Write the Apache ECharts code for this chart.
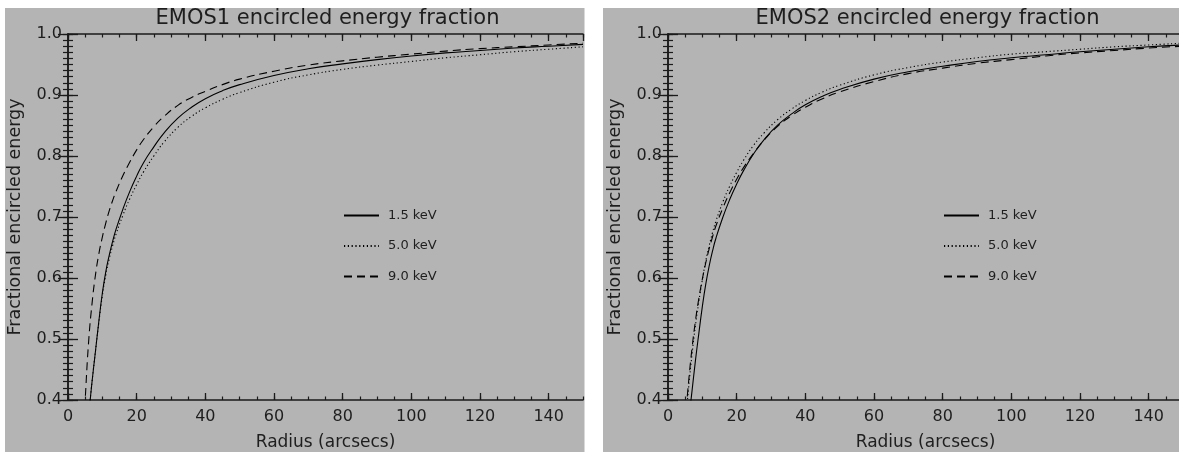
<!DOCTYPE html>
<html>
<head>
<meta charset="utf-8">
<script src="https://cdn.jsdelivr.net/npm/echarts@6/dist/echarts.min.js"></script>
<style>
html,body{margin:0;padding:0;background:#fff;}
#chart{width:1179px;height:452px;}
</style>
</head>
<body>
<div id="chart"></div>
<script>
// ---- data ----
const radii = [4,5,6,7,8,9,10,11,12,13,14,16,18,20,22,25,28,32,36,40,45,50,60,70,80,90,100,110,120,130,140,150];
const seriesNames = ['1.5 keV','5.0 keV','9.0 keV'];
const panelTitles = ['EMOS1 encircled energy fraction','EMOS2 encircled energy fraction'];
const xTitle = 'Radius (arcsecs)';
const yTitle = 'Fractional encircled energy';

const emos1_15 = [0.27,0.325,0.375,0.43,0.48,0.53,0.575,0.61,0.637,0.66,0.68,0.713,0.742,0.767,0.789,0.815,0.838,0.862,0.88,0.894,0.907,0.917,0.932,0.943,0.951,0.958,0.964,0.969,0.973,0.977,0.980,0.983];
const emos1_50 = [0.27,0.325,0.375,0.43,0.48,0.528,0.571,0.605,0.631,0.653,0.672,0.703,0.73,0.753,0.774,0.80,0.823,0.847,0.865,0.879,0.893,0.904,0.921,0.933,0.942,0.949,0.955,0.961,0.966,0.971,0.975,0.979];
const emos1_90 = [0.30,0.40,0.495,0.558,0.605,0.64,0.667,0.69,0.71,0.727,0.742,0.768,0.79,0.81,0.827,0.848,0.865,0.883,0.896,0.906,0.917,0.926,0.939,0.949,0.956,0.962,0.967,0.972,0.976,0.979,0.982,0.985];

const emos2_15 = [0.25,0.31,0.365,0.415,0.465,0.51,0.553,0.59,0.62,0.645,0.666,0.70,0.729,0.754,0.776,0.804,0.827,0.851,0.869,0.884,0.898,0.909,0.926,0.938,0.947,0.955,0.961,0.966,0.971,0.975,0.979,0.982];
const emos2_50 = [0.29,0.355,0.42,0.475,0.522,0.562,0.597,0.628,0.653,0.675,0.694,0.725,0.751,0.773,0.793,0.818,0.838,0.86,0.877,0.891,0.905,0.916,0.933,0.945,0.954,0.961,0.967,0.971,0.975,0.979,0.982,0.985];
const emos2_90 = [0.30,0.365,0.43,0.485,0.53,0.567,0.598,0.625,0.648,0.668,0.686,0.715,0.74,0.762,0.781,0.805,0.826,0.849,0.866,0.88,0.894,0.905,0.922,0.935,0.944,0.952,0.958,0.964,0.969,0.973,0.977,0.98];

const panelData = [[emos1_15, emos1_50, emos1_90],[emos2_15, emos2_50, emos2_90]];
const lineTypes = ['solid',[1.2,2.6],[8,5]];

// ---- layout ----
const FONT = 'DejaVu Sans';
const TXT = '#1e1e1e';
const AX = '#1a1a1a';
const BG = '#b4b4b4';
const gridLefts = [68, 668];
const gridTop = 34, gridW = 515, gridH = 366;

const grids = [], xAxes = [], yAxes = [], series = [], titles = [], legends = [];

gridLefts.forEach((gl, g) => {
  grids.push({left: gl, top: gridTop, width: gridW, height: gridH, containLabel: false, outerBoundsMode: 'none'});
  const xBase = {gridIndex: g, type: 'value', min: 0, max: 150, splitLine: {show: false}};
  const yBase = {gridIndex: g, type: 'value', min: 0.4, max: 1.0, splitLine: {show: false}};
  const line = {show: true, lineStyle: {color: AX, width: 1.5}};
  xAxes.push(Object.assign({}, xBase, {
    position: 'bottom', interval: 20,
    axisLine: line,
    axisTick: {show: true, inside: true, length: 7, lineStyle: {color: AX, width: 1.3}},
    axisLabel: {show: true, showMaxLabel: false, margin: 9, fontSize: 16, color: TXT, fontFamily: FONT},
    name: xTitle, nameLocation: 'middle', nameGap: 34,
    nameTextStyle: {fontSize: 17, color: TXT, fontFamily: FONT}
  }));
  const seriesXIndex = xAxes.length - 1;
  xAxes.push(Object.assign({}, xBase, {
    position: 'bottom', interval: 5,
    axisLine: {show: false},
    axisTick: {show: true, inside: true, length: 3.5, lineStyle: {color: AX, width: 1.2}},
    axisLabel: {show: false}
  }));
  xAxes.push(Object.assign({}, xBase, {
    position: 'top', interval: 20,
    axisLine: line,
    axisTick: {show: true, inside: true, length: 7, lineStyle: {color: AX, width: 1.3}},
    axisLabel: {show: false}
  }));
  xAxes.push(Object.assign({}, xBase, {
    position: 'top', interval: 5,
    axisLine: {show: false},
    axisTick: {show: true, inside: true, length: 3.5, lineStyle: {color: AX, width: 1.2}},
    axisLabel: {show: false}
  }));
  yAxes.push(Object.assign({}, yBase, {
    position: 'left', interval: 0.1,
    axisLine: line,
    axisTick: {show: true, inside: true, length: 10, lineStyle: {color: AX, width: 1.3}},
    axisLabel: {show: true, margin: 6, fontSize: 16, color: TXT, fontFamily: FONT,
      formatter: v => v.toFixed(1)},
    name: yTitle, nameLocation: 'middle', nameGap: 44,
    nameTextStyle: {fontSize: 17.5, color: TXT, fontFamily: FONT}
  }));
  const seriesYIndex = yAxes.length - 1;
  yAxes.push(Object.assign({}, yBase, {
    position: 'left', interval: 0.01,
    axisLine: {show: false},
    axisTick: {show: true, inside: true, length: 5, lineStyle: {color: AX, width: 1.2}},
    axisLabel: {show: false}
  }));
  yAxes.push(Object.assign({}, yBase, {
    position: 'right', interval: 0.1,
    axisLine: line,
    axisTick: {show: true, inside: true, length: 10, lineStyle: {color: AX, width: 1.3}},
    axisLabel: {show: false}
  }));
  yAxes.push(Object.assign({}, yBase, {
    position: 'right', interval: 0.01,
    axisLine: {show: false},
    axisTick: {show: true, inside: true, length: 5, lineStyle: {color: AX, width: 1.2}},
    axisLabel: {show: false}
  }));

  panelData[g].forEach((vals, s) => {
    series.push({
      type: 'line', name: seriesNames[s],
      xAxisIndex: seriesXIndex, yAxisIndex: seriesYIndex,
      data: radii.map((r, i) => [r, vals[i]]),
      symbol: 'none', showSymbol: false,
      smooth: 0.5,
      clip: true,
      lineStyle: {color: '#000', width: 1.1, type: lineTypes[s]},
      itemStyle: {color: '#000', opacity: 0},
      emphasis: {disabled: true},
      silent: true
    });
  });

  titles.push({
    text: panelTitles[g], left: gl + gridW / 2 - 3, top: 3, textAlign: 'center',
    textStyle: {fontSize: 21, fontWeight: 'normal', color: TXT, fontFamily: FONT}
  });

  legends.push({
    data: seriesNames, orient: 'vertical',
    left: gl + 275, top: 209, padding: 0,
    itemWidth: 35, itemHeight: 12, itemGap: 17.5,
    selectedMode: false,
    itemStyle: {opacity: 0},
    textStyle: {fontSize: 13, color: TXT, fontFamily: FONT, padding: [0, 0, 0, 4]}
  });
});

const chart = echarts.init(document.getElementById('chart'), null, {renderer: 'canvas'});
chart.setOption({
  animation: false,
  backgroundColor: '#ffffff',
  graphic: [
    {type: 'rect', z: -10, silent: true, shape: {x: 5, y: 8, width: 579.5, height: 444}, style: {fill: BG}},
    {type: 'rect', z: -10, silent: true, shape: {x: 603, y: 8, width: 576, height: 444}, style: {fill: BG}}
  ],
  title: titles,
  legend: legends,
  grid: grids,
  xAxis: xAxes,
  yAxis: yAxes,
  series: series
});
</script>
</body>
</html>
